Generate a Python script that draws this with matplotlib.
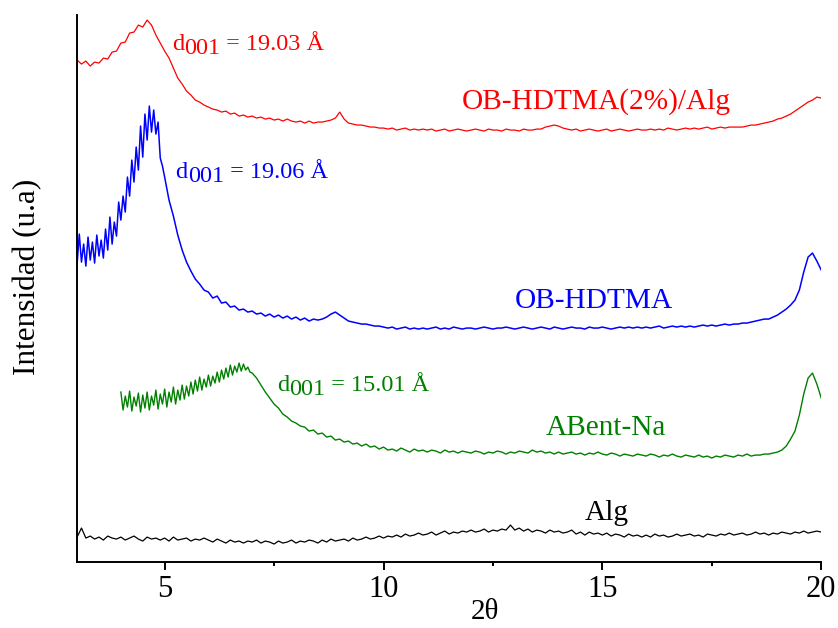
import numpy as np
import matplotlib
matplotlib.use('Agg')
import matplotlib.pyplot as plt
from matplotlib.ticker import MultipleLocator

plt.rcParams['font.family'] = ['Liberation Serif', 'DejaVu Serif']

# 2theta steps of the scans (finer step read on the noisy low-angle part)
theta = np.round(np.arange(3.0, 20.05, 0.1), 1)
theta_blue = np.concatenate([np.round(np.arange(3.0, 4.96, 0.05), 2), theta[20:]])
theta_green = np.concatenate([np.round(np.arange(4.0, 6.96, 0.05), 2), theta[40:]])

# intensities (a.u., stacked)
alg_hdtma = [502, 498, 501, 496, 500, 499, 504, 503, 510, 511,
             519, 520, 529, 530, 537, 535, 542, 537, 527, 519,
             511, 504, 494, 484, 478, 471, 467, 462, 460, 457,
             455, 453, 452, 450, 451, 448, 449, 446, 447, 445,
             446, 444, 445, 443, 444, 442, 443, 441, 443, 441,
             440, 441, 439, 441, 439, 440, 440, 441, 442, 444,
             450, 443, 439, 438, 437, 437, 436, 435, 435, 434,
             434, 433, 434, 432, 433, 434, 432, 433, 432, 433,
             432, 433, 431, 432, 433, 431, 432, 433, 432, 431,
             432, 433, 432, 431, 433, 432, 432, 431, 433, 432,
             432, 431, 433, 432, 432, 433, 433, 435, 436, 437,
             436, 434, 433, 432, 433, 431, 432, 433, 432, 431,
             432, 433, 431, 432, 433, 432, 431, 432, 433, 432,
             432, 433, 432, 433, 432, 434, 433, 432, 433, 434,
             433, 434, 433, 434, 435, 433, 434, 435, 434, 435,
             435, 435, 435, 436, 437, 437, 438, 439, 440, 441,
             443, 444, 446, 448, 451, 454, 457, 460, 462, 465,
             464]

hdtma = [298, 328, 300, 318, 296, 325, 302, 320, 299, 327,
         306, 322, 304, 333, 312, 345, 318, 340, 326, 360,
         342, 366, 350, 385, 366, 402, 380, 415, 392, 436,
         405, 448, 422, 456, 430, 452, 428, 440, 404, 396,
         385, 362, 346, 327, 312, 300, 291, 283, 278, 272,
         270, 264, 266, 259, 260, 255, 256, 252, 253, 250,
         251, 248, 249, 246, 248, 245, 247, 244, 246, 243,
         245, 242, 244, 241, 243, 242, 243, 245, 248, 250,
         247, 244, 241, 240, 239, 238, 238, 237, 236, 236,
         235, 234, 235, 233, 234, 235, 233, 234, 233, 234,
         233, 234, 235, 233, 234, 233, 235, 234, 233, 234,
         234, 233, 234, 235, 234, 233, 234, 234, 235, 234,
         233, 234, 235, 234, 233, 234, 235, 234, 233, 235,
         234, 233, 234, 235, 234, 234, 233, 235, 234, 234,
         235, 234, 233, 234, 235, 234, 235, 234, 235, 234,
         235, 234, 235, 236, 234, 235, 236, 235, 236, 235,
         236, 235, 236, 237, 236, 237, 236, 237, 238, 237,
         238, 238, 239, 239, 240, 241, 242, 243, 243, 245,
         247, 250, 253, 257, 262, 272, 290, 305, 309, 301,
         292]

bent_na = [170, 152, 166, 155, 171, 151, 165, 156, 169, 150,
           167, 154, 170, 152, 166, 157, 172, 153, 168, 158,
           173, 155, 170, 160, 175, 158, 172, 162, 177, 163,
           176, 166, 180, 168, 182, 171, 185, 172, 183, 175,
           187, 176, 186, 179, 190, 180, 192, 183, 194, 185,
           197, 187, 196, 190, 199, 191, 198, 192, 195, 190,
           189, 184, 177, 170, 164, 158, 154, 148, 145, 141,
           139, 136, 135, 131, 132, 128, 129, 125, 126, 122,
           123, 120, 121, 118, 119, 116, 118, 115, 116, 113,
           115, 112, 113, 111, 114, 112, 110, 113, 111, 112,
           110, 112, 111, 109, 112, 110, 111, 109, 111, 110,
           109, 111, 110, 108, 110, 109, 111, 110, 108, 110,
           109, 111, 110, 109, 112, 110, 111, 109, 110, 108,
           110, 108, 109, 110, 108, 109, 107, 109, 108, 110,
           108, 107, 109, 108, 106, 108, 107, 106, 108, 107,
           106, 108, 107, 105, 107, 106, 108, 106, 105, 107,
           106, 105, 107, 105, 106, 104, 106, 105, 107, 106,
           105, 107, 106, 108, 106, 107, 107, 108, 108, 109,
           110, 112, 116, 123, 131, 147, 168, 184, 189, 178,
           164]

alg = [25, 34, 24, 26, 23, 25, 22, 26, 24, 23,
       25, 22, 24, 26, 23, 21, 25, 23, 24, 22,
       24, 21, 25, 22, 23, 24, 21, 23, 22, 24,
       22, 20, 23, 21, 19, 22, 20, 21, 19, 21,
       20, 22, 19, 21, 20, 18, 21, 19, 20, 22,
       19, 21, 20, 22, 21, 19, 22, 20, 23, 21,
       22, 23, 21, 24, 22, 23, 25, 23, 24, 26,
       24, 26, 25, 27, 25, 28, 26, 27, 29, 27,
       28, 30, 27, 29, 31, 28, 30, 29, 31, 30,
       32, 30, 31, 33, 30, 32, 31, 33, 32, 37,
       32, 34, 31, 33, 30, 32, 31, 29, 32, 30,
       31, 29, 30, 32, 28, 30, 27, 30, 28, 29,
       27, 29, 26, 28, 27, 25, 28, 26, 27, 25,
       27, 25, 28, 26, 27, 25, 26, 28, 26, 27,
       28, 26, 27, 25, 28, 27, 26, 28, 27, 29,
       27, 28, 29, 27, 28, 30, 28, 29, 27, 29,
       28, 30, 29, 28, 30, 29, 31, 29, 30, 31,
       30]

red = '#ff0000'
blue = '#0000ff'
green = '#008000'

fig = plt.figure(figsize=(8.38, 6.28), dpi=100)
ax = fig.add_axes([0.092, 0.105, 0.888, 0.871])

ax.plot(theta, alg_hdtma, color=red, lw=0.9)
ax.plot(theta_blue, hdtma, color=blue, lw=1.1)
ax.plot(theta_green, bent_na, color=green, lw=1.0)
ax.plot(theta, alg, color='black', lw=0.9)

ax.set_xlim(3, 20)
ax.set_ylim(0, 547)
ax.set_yticks([])
ax.xaxis.set_major_locator(MultipleLocator(5))
ax.xaxis.set_minor_locator(MultipleLocator(2.5))
ax.tick_params(axis='x', which='major', length=6, width=1.4, direction='out', labelsize=22, pad=3)
ax.tick_params(axis='x', which='minor', length=3, width=1.4, direction='out')
for s in ['top', 'right']:
    ax.spines[s].set_visible(False)
for s in ['left', 'bottom']:
    ax.spines[s].set_linewidth(1.4)

ax.set_ylabel('Intensidad (u.a)', fontsize=22.5)
ax.yaxis.set_label_coords(-0.047, 0.521)
fig.text(485 / 838, 1 - 612 / 628, '2θ', fontsize=21, ha='center', va='center')


def d_label(x, y, sub, rest, color):
    t1 = ax.text(x, y, 'd', color=color, fontsize=17.5, va='baseline')
    t2 = ax.annotate(sub, xy=(1, 0), xycoords=t1, xytext=(0, -3),
                     textcoords='offset points', va='bottom', color=color, fontsize=17.5)
    ax.annotate(rest, xy=(1, 0), xycoords=t2, xytext=(0, 3),
                textcoords='offset points', va='bottom', color=color, fontsize=17.5)


d_label(5.16, 512, '001', ' = 19.03 Å', red)
d_label(5.25, 384, '001', ' = 19.06 Å', blue)
d_label(7.56, 171, '001', ' = 15.01 Å', green)

ax.text(11.79, 453, 'OB-HDTMA(2%)/Alg', color=red, fontsize=21.2, va='baseline')
ax.text(13.0, 254, 'OB-HDTMA', color=blue, fontsize=21.2, va='baseline')
ax.text(13.71, 127, 'ABent-Na', color=green, fontsize=21.2, va='baseline')
ax.text(14.6, 42, 'Alg', color='black', fontsize=21.2, va='baseline')

fig.savefig('out.png', dpi=100)
